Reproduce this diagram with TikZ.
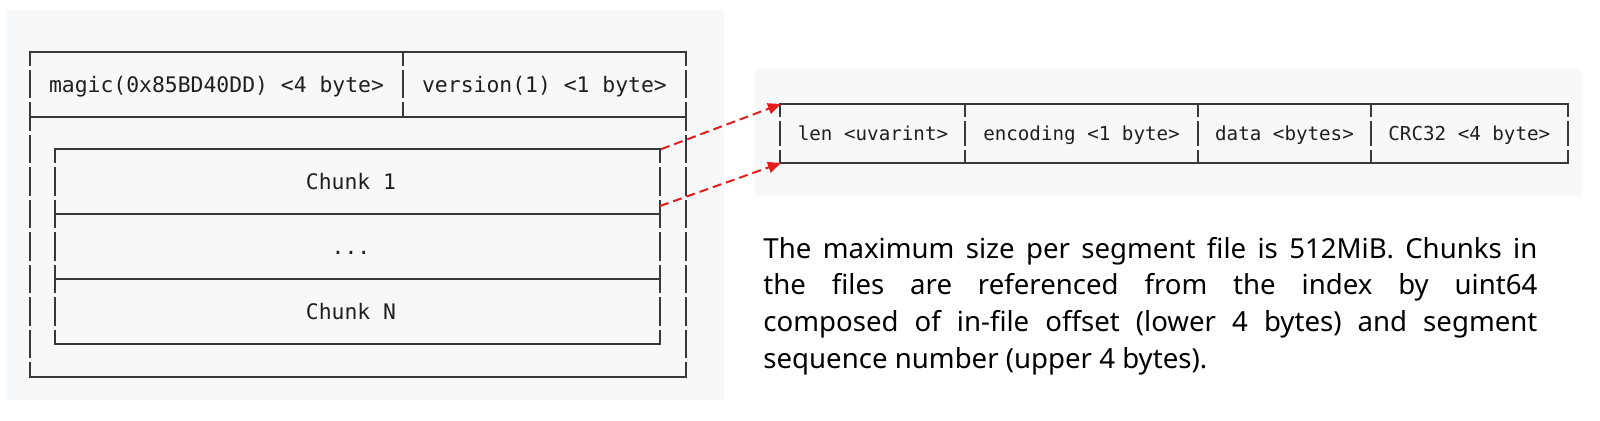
\documentclass[tikz,border=0pt]{standalone}
\usepackage{fontspec}
\setmainfont{Noto Sans}
\setmonofont{DejaVu Sans Mono}
\usetikzlibrary{arrows.meta}

\newlength{\du}
\setlength{\du}{0.5pt}

\definecolor{panelcolor}{rgb}{0.965, 0.973, 0.980}
\definecolor{dialinecolor}{rgb}{0.220, 0.220, 0.220}
\definecolor{arrowcolor}{rgb}{0.890, 0.110, 0.110}

\tikzset{
  hline/.style={draw=dialinecolor, line width=2\du, line cap=rect},
  vline/.style={draw=dialinecolor, line width=2\du, dash pattern=on 28.5\du off 4\du, dash phase=14.25\du},
  fieldvline/.style={draw=dialinecolor, line width=2\du, dash pattern=on 25.5\du off 4\du, dash phase=12.75\du},
  cell/.style={anchor=base, inner sep=0pt, text=black!88, font=\ttfamily\fontsize{10.7}{13}\selectfont},
  fieldcell/.style={cell, font=\ttfamily\fontsize{9.6}{12}\selectfont},
  refarrow/.style={draw=arrowcolor, line width=2\du, dash pattern=on 9\du off 5\du, -{Triangle[length=6.5pt,width=5.5pt]}}
}

\begin{document}
\begin{tikzpicture}
\pgftransformxscale{1.000000}
\pgftransformyscale{-1.000000}
\useasboundingbox (0\du,0\du) rectangle (1600\du,420\du);
% panels
\fill[panelcolor] (7\du,10\du) rectangle (724\du,400\du);
\fill[panelcolor] (755\du,69\du) rectangle (1582\du,197\du);
% segment file
\draw[hline] (30\du,51.7\du) -- (686\du,51.7\du);
\draw[hline] (30\du,116.7\du) -- (686\du,116.7\du);
\draw[hline] (30\du,376.7\du) -- (686\du,376.7\du);
\draw[vline] (30\du,51.7\du) -- (30\du,376.7\du);
\draw[vline] (686\du,51.7\du) -- (686\du,376.7\du);
\draw[vline] (403\du,51.7\du) -- (403\du,116.7\du);
\node[cell] (magic) at (216.5\du,92.3\du) {magic(0x85BD40DD) <4 byte>};
\node[cell] (version) at (544.5\du,92.3\du) {version(1) <1 byte>};
% chunks
\draw[hline] (55\du,149.2\du) -- (660\du,149.2\du);
\draw[hline] (55\du,214.2\du) -- (660\du,214.2\du);
\draw[hline] (55\du,279.2\du) -- (660\du,279.2\du);
\draw[hline] (55\du,344.2\du) -- (660\du,344.2\du);
\draw[vline] (55\du,149.2\du) -- (55\du,344.2\du);
\draw[vline] (660\du,149.2\du) -- (660\du,344.2\du);
\node[cell] (chunkone) at (351\du,189.5\du) {Chunk 1};
\node[cell] (chunkdots) at (351\du,254.5\du) {...};
\node[cell] (chunkn) at (351\du,319.5\du) {Chunk N};
% chunk layout
\draw[hline] (780\du,104\du) -- (1568\du,104\du);
\draw[hline] (780\du,163\du) -- (1568\du,163\du);
\draw[fieldvline] (780\du,104\du) -- (780\du,163\du);
\draw[fieldvline] (964.6\du,104\du) -- (964.6\du,163\du);
\draw[fieldvline] (1198.3\du,104\du) -- (1198.3\du,163\du);
\draw[fieldvline] (1370.6\du,104\du) -- (1370.6\du,163\du);
\draw[fieldvline] (1568\du,104\du) -- (1568\du,163\du);
\node[fieldcell] (len) at (873\du,140\du) {len <uvarint>};
\node[fieldcell] (encoding) at (1081.5\du,140\du) {encoding <1 byte>};
\node[fieldcell] (data) at (1284.5\du,140\du) {data <bytes>};
\node[fieldcell] (crc) at (1469.3\du,140\du) {CRC32 <4 byte>};
% references
\coordinate (chunktop) at (661\du,149.2\du);
\coordinate (chunkside) at (660\du,206\du);
\coordinate (fieldtop) at (781\du,104\du);
\coordinate (fieldbot) at (781\du,163\du);
\draw[refarrow] (chunktop) -- (fieldtop);
\draw[refarrow] (chunkside) -- (fieldbot);
% note
\node[anchor=base west, inner sep=0pt] (note) at (763\du,258\du) {\parbox[t]{774\du}{\fontsize{13.8}{18.35}\selectfont\tolerance=9999 The maximum size per segment file is 512MiB. Chunks in\linebreak the files are referenced from the index by uint64\linebreak composed of in-file offset (lower 4 bytes) and segment\linebreak sequence number (upper 4 bytes).}};
\end{tikzpicture}
\end{document}
